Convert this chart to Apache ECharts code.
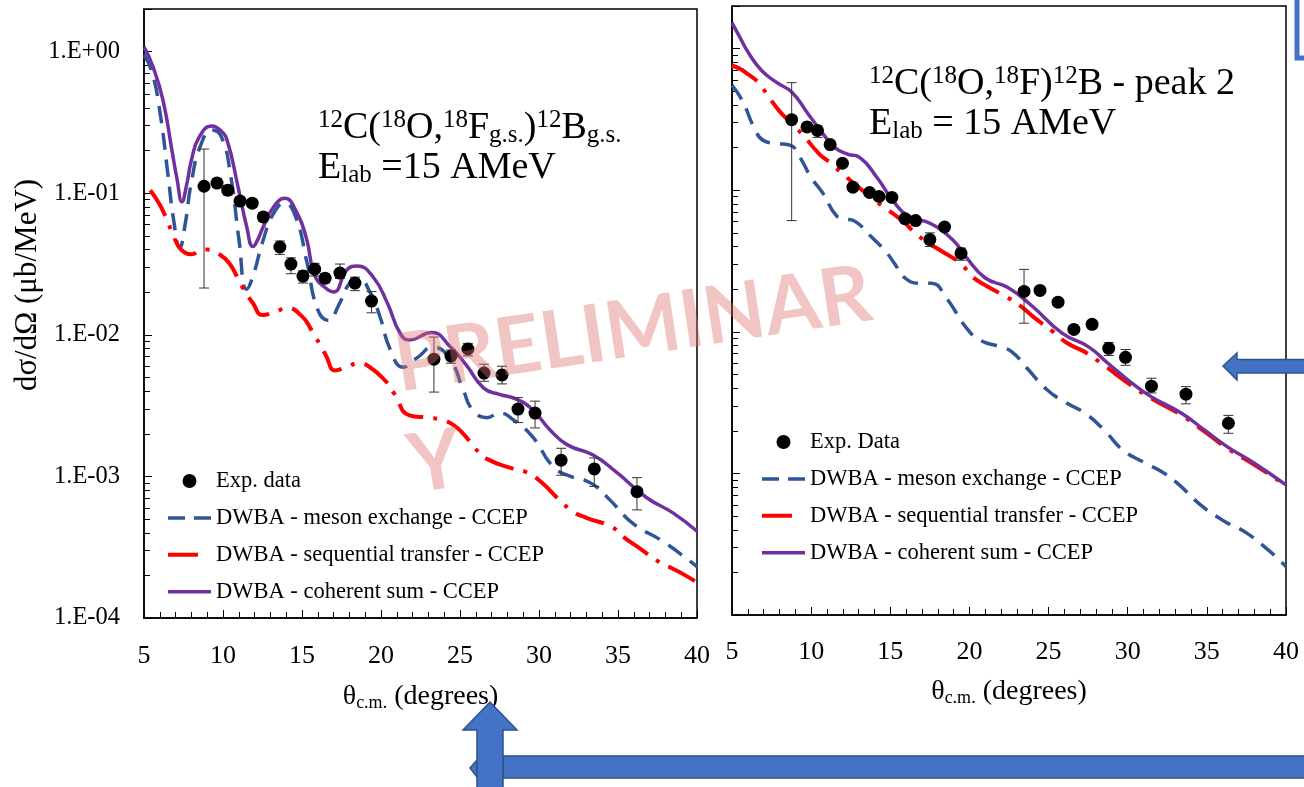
<!DOCTYPE html>
<html>
<head>
<meta charset="utf-8">
<script src="https://cdn.jsdelivr.net/npm/echarts@6.0.0/dist/echarts.min.js"></script>
<style>
  html, body { margin: 0; padding: 0; background: #ffffff; }
  #chart { width: 1304px; height: 787px; }
</style>
</head>
<body>
<div id="chart"></div>
<script>
// ---------- fonts & colours ----------
const SERIF = "'Liberation Serif', 'Times New Roman', serif";
const PURPLE = '#7030A0';
const BLUE = '#2F5597';
const RED = '#FF0000';

// ---------- tick labels ----------
const thetaTicks = [5, 10, 15, 20, 25, 30, 35, 40];

// ---------- left panel: 12C(18O,18F g.s.)12B g.s. ----------
const gsTheta = [8.8, 9.62, 10.3, 11.08, 11.85, 12.55, 13.6, 14.3, 15.06, 15.8, 16.46, 17.4, 18.35, 19.4, 23.35, 24.43, 25.5, 26.52, 27.66, 28.67, 29.75, 31.4, 33.5, 36.2];
const gsValue = [0.112, 0.118, 0.105, 0.088, 0.085, 0.068, 0.0417, 0.0316, 0.026, 0.0291, 0.0251, 0.0273, 0.0232, 0.0173, 0.00673, 0.00708, 0.00794, 0.00537, 0.0052, 0.00299, 0.0028, 0.0013, 0.00113, 0.00078];
const gsLow   = [0.0214, 0.110, 0.097, 0.082, 0.080, 0.063, 0.037, 0.027, 0.0232, 0.026, 0.0232, 0.025, 0.0205, 0.0143, 0.00394, 0.0063, 0.0071, 0.0047, 0.0045, 0.0024, 0.0022, 0.00102, 0.00085, 0.00058];
const gsHigh  = [0.205, 0.127, 0.113, 0.094, 0.090, 0.073, 0.046, 0.035, 0.0283, 0.032, 0.027, 0.0316, 0.0255, 0.0202, 0.00964, 0.0078, 0.0087, 0.0062, 0.0060, 0.0036, 0.0034, 0.00158, 0.00135, 0.00098];

const gsMeson = [[5, 0.95], [5.5, 0.72], [6.0, 0.38], [6.5, 0.14], [6.9, 0.062], [7.25, 0.041], [7.6, 0.06], [8.0, 0.12], [8.6, 0.22], [9.3, 0.28], [9.9, 0.25], [10.5, 0.13], [11.0, 0.048], [11.5, 0.021], [11.9, 0.026], [12.5, 0.045], [13.2, 0.072], [13.9, 0.085], [14.6, 0.068], [15.3, 0.033], [16.0, 0.015], [16.7, 0.0126], [17.3, 0.016], [18.0, 0.023], [18.6, 0.025], [19.3, 0.02], [19.9, 0.0138], [20.6, 0.0078], [21.4, 0.0059], [22.3, 0.0069], [23.3, 0.0082], [24.4, 0.0066], [25.2, 0.0041], [25.8, 0.00295], [26.7, 0.0026], [27.5, 0.0028], [28.4, 0.0025], [29.6, 0.0019], [30.9, 0.00117], [32.0, 0.00100], [32.8, 0.00095], [33.6, 0.00085], [34.5, 0.00068], [36.0, 0.00046], [37.8, 0.00035], [39.6, 0.00025], [40, 0.00023]];
const gsSequential = [[5.4, 0.105], [6.0, 0.083], [6.4, 0.067], [6.8, 0.052], [7.2, 0.042], [7.6, 0.038], [8.0, 0.037], [8.5, 0.039], [9.0, 0.040], [9.6, 0.038], [10.4, 0.032], [11.2, 0.022], [11.9, 0.0167], [12.5, 0.0138], [13.3, 0.0145], [14.05, 0.0155], [15.0, 0.0135], [15.6, 0.0108], [16.5, 0.0072], [17.1, 0.0056], [17.8, 0.0059], [18.6, 0.0063], [19.3, 0.0059], [20.3, 0.0047], [20.8, 0.0039], [21.8, 0.0027], [23.0, 0.0026], [23.9, 0.0025], [24.6, 0.0023], [25.3, 0.00195], [25.95, 0.00158], [26.7, 0.00133], [28.4, 0.00113], [29.2, 0.00107], [30.1, 0.00092], [31.3, 0.00068], [32.2, 0.00056], [33.0, 0.00051], [34.6, 0.00044], [35.4, 0.00037], [36.2, 0.00032], [37.7, 0.000245], [38.5, 0.000222], [39.4, 0.000196], [40, 0.000178]];
const gsCoherent = [[5, 1.08], [5.57, 0.78], [6.2, 0.455], [6.77, 0.2], [7.1, 0.124], [7.4, 0.087], [7.7, 0.115], [8.0, 0.171], [8.5, 0.25], [9.3, 0.298], [9.8, 0.28], [10.25, 0.238], [10.95, 0.111], [11.5, 0.058], [11.9, 0.042], [12.2, 0.047], [12.55, 0.058], [13.2, 0.080], [13.9, 0.092], [14.7, 0.072], [15.3, 0.047], [15.8, 0.0264], [16.5, 0.0214], [17.0, 0.0201], [17.85, 0.0288], [18.5, 0.0306], [19.5, 0.0256], [20.4, 0.0168], [21.2, 0.0103], [21.8, 0.0092], [23.2, 0.0104], [24.4, 0.0082], [25.4, 0.0061], [26.5, 0.0042], [27.5, 0.0038], [28.6, 0.0035], [29.6, 0.00295], [30.7, 0.00213], [31.8, 0.00167], [33.4, 0.00142], [34.9, 0.00107], [36.8, 0.00071], [38.5, 0.00055], [40, 0.00041]];

// ---------- right panel: 12C(18O,18F)12B peak 2 ----------
const pkTheta = [8.77, 9.74, 10.4, 11.2, 11.98, 12.64, 13.69, 14.29, 15.1, 15.93, 16.6, 17.5, 18.43, 19.47, 23.45, 24.46, 25.6, 26.6, 27.75, 28.8, 29.86, 31.5, 33.68, 36.36];
const pkValue = [0.315, 0.28, 0.264, 0.21, 0.155, 0.105, 0.0964, 0.0903, 0.089, 0.063, 0.061, 0.0448, 0.055, 0.0358, 0.0193, 0.0196, 0.0162, 0.0104, 0.0113, 0.00765, 0.0066, 0.00413, 0.00363, 0.00226];
const pkLow   = [0.061, 0.268, 0.236, 0.2, 0.148, 0.1, 0.092, 0.086, 0.085, 0.06, 0.058, 0.04, 0.052, 0.032, 0.0115, 0.0187, 0.0154, 0.0098, 0.0106, 0.0068, 0.0058, 0.0037, 0.0031, 0.00192];
const pkHigh  = [0.575, 0.292, 0.285, 0.22, 0.162, 0.11, 0.101, 0.095, 0.093, 0.066, 0.064, 0.05, 0.058, 0.039, 0.0276, 0.0205, 0.017, 0.011, 0.012, 0.0084, 0.0075, 0.0047, 0.0041, 0.00257];

const pkMeson = [[5, 0.55], [5.65, 0.43], [6.4, 0.277], [7.0, 0.224], [7.84, 0.214], [8.7, 0.207], [9.3, 0.17], [10.0, 0.123], [10.75, 0.095], [11.6, 0.066], [12.1, 0.063], [12.8, 0.06], [13.7, 0.048], [14.65, 0.0376], [15.3, 0.030], [15.87, 0.0243], [16.85, 0.022], [17.6, 0.022], [18.55, 0.0173], [19.77, 0.0108], [20.7, 0.0087], [22.0, 0.0078], [22.7, 0.0072], [23.6, 0.0056], [24.9, 0.0039], [26.1, 0.00316], [27.3, 0.00266], [28.5, 0.00203], [29.7, 0.00146], [31.0, 0.0012], [32.2, 0.00102], [33.15, 0.00085], [34.6, 0.0006], [36.1, 0.00046], [37.5, 0.00038], [39.0, 0.00028], [40, 0.00022]];
const pkSequential = [[5, 0.76], [5.5, 0.72], [6.0, 0.66], [6.64, 0.58], [7.3, 0.46], [7.97, 0.365], [8.7, 0.3], [9.42, 0.25], [10.52, 0.18], [11.25, 0.155], [12.0, 0.13], [13.0, 0.105], [14.0, 0.085], [14.9, 0.072], [15.9, 0.059], [16.4, 0.052], [17.3, 0.043], [18.1, 0.038], [19.5, 0.030], [20.1, 0.025], [21.0, 0.0213], [22.4, 0.0175], [23.3, 0.015], [24.1, 0.0126], [25.3, 0.0100], [26.2, 0.0083], [27.3, 0.0072], [28.5, 0.0058], [30.2, 0.0042], [31.45, 0.0034], [33.4, 0.00258], [34.86, 0.00197], [36.3, 0.0015], [38.0, 0.00115], [40, 0.00082]];
const pkCoherent = [[5, 1.52], [5.5, 1.2], [6.0, 0.95], [6.87, 0.70], [7.84, 0.575], [8.8, 0.49], [9.8, 0.347], [10.75, 0.25], [11.5, 0.2], [12.3, 0.18], [13.08, 0.17], [14.16, 0.123], [15.15, 0.085], [16.1, 0.066], [17.57, 0.058], [19.0, 0.044], [19.8, 0.0336], [21.0, 0.024], [22.4, 0.0206], [23.9, 0.0154], [25.85, 0.0098], [27.55, 0.0078], [28.75, 0.006], [30.2, 0.0044], [31.45, 0.0035], [33.4, 0.00266], [34.86, 0.00202], [36.3, 0.00154], [38.0, 0.00118], [40, 0.00083]];

// ---------- legend names ----------
const NAME_MESON = 'DWBA - meson exchange - CCEP';
const NAME_SEQ = 'DWBA - sequential transfer - CCEP';
const NAME_SUM = 'DWBA - coherent sum - CCEP';

// ---------- helpers ----------
function sciLabel(v) {
  const e = Math.log10(v);
  const r = Math.round(e);
  if (Math.abs(e - r) > 1e-6) return '';
  return '1.E' + (r < 0 ? '-' : '+') + String(Math.abs(r)).padStart(2, '0');
}

function errorBars(params, api) {
  const x = api.value(0);
  const top = api.coord([x, api.value(2)]);
  const bot = api.coord([x, api.value(1)]);
  const w = 5;
  const st = { stroke: '#333333', lineWidth: 1 };
  return {
    type: 'group',
    children: [
      { type: 'line', shape: { x1: top[0], y1: top[1], x2: bot[0], y2: bot[1] }, style: st },
      { type: 'line', shape: { x1: top[0] - w, y1: top[1], x2: top[0] + w, y2: top[1] }, style: st },
      { type: 'line', shape: { x1: bot[0] - w, y1: bot[1], x2: bot[0] + w, y2: bot[1] }, style: st }
    ]
  };
}

function expSeries(name, idx, theta, val) {
  return {
    name, type: 'scatter', xAxisIndex: idx, yAxisIndex: idx,
    data: theta.map((t, i) => [t, val[i]]),
    symbol: 'circle', symbolSize: 13,
    itemStyle: { color: '#000000', opacity: 1 }, z: 6, silent: true
  };
}
function errSeries(idx, theta, lo, hi) {
  return {
    type: 'custom', xAxisIndex: idx, yAxisIndex: idx,
    data: theta.map((t, i) => [t, lo[i], hi[i]]),
    encode: { x: 0, y: [1, 2] },
    renderItem: errorBars, z: 5, silent: true
  };
}
function curve(name, idx, data, color, type, width) {
  return {
    name, type: 'line', xAxisIndex: idx, yAxisIndex: idx, data,
    smooth: 0.5, symbol: 'none', clip: true,
    lineStyle: { color, width, type, cap: 'butt', join: 'round' },
    itemStyle: { color }, z: 3, silent: true
  };
}

const DASH_BLUE = [17, 10];
const DASH_RED = [30, 10, 4, 10];

function xAxis(gridIndex, labelMargin, nameGap) {
  return {
    type: 'value', gridIndex, min: 5, max: 40, interval: 5,
    axisLine: { show: true, lineStyle: { color: '#000', width: 1.5 } },
    axisTick: { show: true, inside: true, length: 8, lineStyle: { color: '#000', width: 1 } },
    minorTick: { show: true, splitNumber: 5, length: 6, lineStyle: { color: '#000', width: 1 } },
    splitLine: { show: false },
    axisLabel: {
      margin: labelMargin, fontFamily: SERIF, fontSize: 26, color: '#000',
      formatter: v => (thetaTicks.indexOf(v) >= 0 ? String(v) : '')
    },
    name: '{t|θ}{s|c.m.}{t| (degrees)}',
    nameLocation: 'middle', nameGap,
    nameTextStyle: {
      rich: {
        t: { fontFamily: SERIF, fontSize: 28, lineHeight: 30, color: '#000' },
        s: { fontFamily: SERIF, fontSize: 18, lineHeight: 12, verticalAlign: 'bottom', color: '#000' }
      }
    }
  };
}
function yAxis(gridIndex, showLabels) {
  return {
    type: 'log', logBase: 10, gridIndex, min: 1e-4, max: 2,
    axisLine: { show: true, lineStyle: { color: '#000', width: 1.5 } },
    axisTick: { show: true, inside: true, length: 8, lineStyle: { color: '#000', width: 1 } },
    minorTick: { show: true, splitNumber: 9, length: 6, lineStyle: { color: '#000', width: 1 } },
    splitLine: { show: false },
    minorSplitLine: { show: false },
    axisLabel: {
      show: showLabels, margin: 24, fontFamily: SERIF, fontSize: 24.5, color: '#000',
      formatter: sciLabel, showMaxLabel: false
    }
  };
}

// ---------- titles (rich text) ----------
const titleRich = {
  b: { fontFamily: SERIF, fontSize: 38, lineHeight: 40, fill: '#000' },
  sup: { fontFamily: SERIF, fontSize: 25, lineHeight: 20, verticalAlign: 'top', fill: '#000' },
  sub: { fontFamily: SERIF, fontSize: 25, lineHeight: 14, verticalAlign: 'bottom', fill: '#000' }
};

// legend icons: dash samples as filled bars
const ICON_DOT = 'circle';
const ICON_MESON = 'path://M0,0h17v3.5h-17z M26,0h17v3.5h-17z';
const ICON_SEQ = 'path://M0,0h30v4h-30z M42.9,1.9h0.1v0.2h-0.1z';
const ICON_SUM = 'path://M0,0h44v3.5h-44z';

const legendText = { fontFamily: SERIF, fontSize: 22.5, color: '#000', lineHeight: 24 };
function legend(left, top, expName) {
  return {
    left, top, orient: 'vertical', padding: 0,
    itemWidth: 43, itemHeight: 14, itemGap: 12.9,
    selectedMode: false, textStyle: legendText,
    data: [
      { name: expName, icon: ICON_DOT },
      { name: NAME_MESON, icon: ICON_MESON },
      { name: NAME_SEQ, icon: ICON_SEQ },
      { name: NAME_SUM, icon: ICON_SUM }
    ]
  };
}

const ARROW_FILL = '#4472C4';
const ARROW_EDGE = '#2F528F';
const STAMP = 'rgba(222,110,110,0.4)';

const option = {
  animation: false,
  backgroundColor: '#ffffff',
  grid: [
    { left: 144, top: 9, width: 553, height: 609, show: true, borderColor: '#000', borderWidth: 1.5, backgroundColor: 'transparent' },
    { left: 732, top: 6, width: 554, height: 609, show: true, borderColor: '#000', borderWidth: 1.5, backgroundColor: 'transparent' }
  ],
  xAxis: [xAxis(0, 25, 64), xAxis(1, 24, 62)],
  yAxis: [yAxis(0, true), yAxis(1, false)],
  legend: [legend(168, 469, 'Exp. data'), legend(762, 430, 'Exp. Data')],
  series: [
    curve(NAME_MESON, 0, gsMeson, BLUE, DASH_BLUE, 3.5),
    curve(NAME_SEQ, 0, gsSequential, RED, DASH_RED, 4),
    curve(NAME_SUM, 0, gsCoherent, PURPLE, 'solid', 3.5),
    errSeries(0, gsTheta, gsLow, gsHigh),
    expSeries('Exp. data', 0, gsTheta, gsValue),

    curve(NAME_MESON, 1, pkMeson, BLUE, DASH_BLUE, 3.5),
    curve(NAME_SEQ, 1, pkSequential, RED, DASH_RED, 4),
    curve(NAME_SUM, 1, pkCoherent, PURPLE, 'solid', 3.5),
    errSeries(1, pkTheta, pkLow, pkHigh),
    expSeries('Exp. Data', 1, pkTheta, pkValue)
  ],
  graphic: [
    // vertical axis title
    {
      type: 'text', x: 28, y: 285, rotation: Math.PI / 2, z: 10,
      style: { text: 'dσ/dΩ (μb/MeV)', fontFamily: SERIF, fontSize: 31, fill: '#000', align: 'center', verticalAlign: 'middle' }
    },
    // reaction labels
    {
      type: 'text', z: 10,
      style: {
        x: 318, y: 108, verticalAlign: 'top', align: 'left', rich: titleRich,
        text: '{sup|12}{b|C(}{sup|18}{b|O,}{sup|18}{b|F}{sub|g.s.}{b|)}{sup|12}{b|B}{sub|g.s.}\n{b|E}{sub|lab}{b| =15 AMeV}'
      }
    },
    {
      type: 'text', z: 10,
      style: {
        x: 869, y: 64, verticalAlign: 'top', align: 'left', rich: titleRich,
        text: '{sup|12}{b|C(}{sup|18}{b|O,}{sup|18}{b|F)}{sup|12}{b|B - peak 2}\n{b|E}{sub|lab}{b| = 15 AMeV}'
      }
    },
    // PRELIMINARY stamp
    {
      type: 'text', x: 633, y: 330, rotation: 0.15, z: 20, silent: true,
      style: { text: 'PRELIMINAR', fontFamily: 'Lato', fontWeight: 'bold', fontSize: 80, fill: STAMP, align: 'center', verticalAlign: 'middle' }
    },
    {
      type: 'text', x: 435, y: 463, rotation: 0.15, z: 20, silent: true,
      style: { text: 'Y', fontFamily: 'Lato', fontWeight: 'bold', fontSize: 82, fill: STAMP, align: 'center', verticalAlign: 'middle' }
    },
    // slide annotations: arrows and frame corner
    {
      type: 'rect', z: 30, shape: { x: 1297, y: -10, width: 30, height: 68 },
      style: { fill: 'none', stroke: ARROW_FILL, lineWidth: 5 }
    },
    {
      type: 'polygon', z: 30,
      shape: { points: [[1223, 366], [1237, 353], [1237, 359.5], [1310, 359.5], [1310, 373], [1237, 373], [1237, 380]] },
      style: { fill: ARROW_FILL, stroke: ARROW_EDGE, lineWidth: 1.5 }
    },
    {
      type: 'rect', z: 30, shape: { x: 503, y: 756, width: 810, height: 22 },
      style: { fill: ARROW_FILL, stroke: ARROW_EDGE, lineWidth: 1.5 }
    },
    {
      type: 'polygon', z: 31,
      shape: { points: [[470, 768], [477, 760], [477, 777]] },
      style: { fill: ARROW_FILL, stroke: ARROW_EDGE, lineWidth: 1.5 }
    },
    {
      type: 'polygon', z: 32,
      shape: { points: [[490, 702], [517, 730], [503, 730], [503, 792], [477, 792], [477, 730], [463, 730]] },
      style: { fill: ARROW_FILL, stroke: ARROW_EDGE, lineWidth: 1.5 }
    }
  ]
};

const chart = echarts.init(document.getElementById('chart'), null, { renderer: 'canvas' });
chart.setOption(option);
</script>
</body>
</html>
